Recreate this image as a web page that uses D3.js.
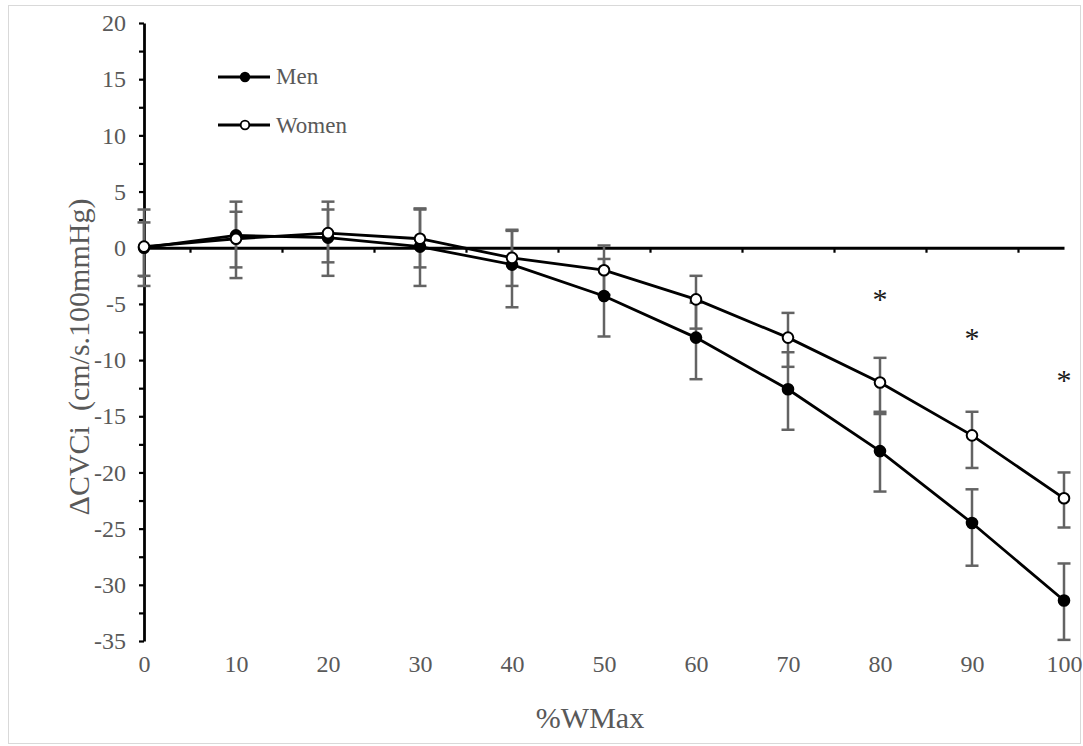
<!DOCTYPE html>
<html>
<head>
<meta charset="utf-8">
<script src="https://cdn.jsdelivr.net/npm/d3@7"></script>
<style>
  body { margin: 0; background: #fff; }
  svg { display: block; }
  text { font-family: "Liberation Serif", "Times New Roman", serif; }
</style>
</head>
<body>
<svg id="chart" width="1083" height="746"></svg>
<script>
// %WMax categories
var loads = [0, 10, 20, 30, 40, 50, 60, 70, 80, 90, 100];

// mean change in CVCi
var menMean   = [0.0, 1.1, 0.9, 0.1, -1.5, -4.3, -8.0, -12.6, -18.1, -24.5, -31.4];
var womenMean = [0.1, 0.8, 1.3, 0.8, -0.9, -2.0, -4.6, -8.0, -12.0, -16.7, -22.3];

// error bar ends (read off the picture, not symmetric everywhere)
var menHi   = [3.4, 4.1, 3.4, 3.5, 1.5, -1.0, -4.9, -9.3, -14.8, -21.5, -28.1];
var menLo   = [-3.4, -2.7, -2.5, -3.4, -5.3, -7.9, -11.7, -16.2, -21.7, -28.3, -34.9];
var womenHi = [2.25, 3.2, 4.1, 3.4, 1.6, 0.2, -2.5, -5.8, -9.8, -14.6, -20.0];
var womenLo = [-2.5, -1.75, -1.3, -1.75, -3.4, -4.2, -7.2, -10.6, -14.6, -19.6, -24.9];

// significance markers
var starLoads = [80, 90, 100];
var starY = [-4.2, -7.7, -11.4];

var yTicks = d3.range(-35, 20.01, 2.5);

var svg = d3.select('#chart');
var textColor = '#595959';
var serif = '"Liberation Serif", "Times New Roman", serif';

var x = d3.scaleLinear().domain([0, 100]).range([144, 1064]);
var y = d3.scaleLinear().domain([-35, 20]).range([641, 23]);

// chart border
svg.append('rect')
  .attr('x', 8.5).attr('y', 5.5)
  .attr('width', 1072).attr('height', 738)
  .attr('fill', 'none')
  .attr('stroke', '#d9d9d9')
  .attr('stroke-width', 1);

// y axis
var yAxis = svg.append('g')
  .attr('transform', 'translate(' + x(0) + ',0)')
  .call(d3.axisLeft(y)
    .tickValues(yTicks)
    .tickSizeInner(5)
    .tickSizeOuter(0)
    .tickPadding(13)
    .tickFormat(d => (d % 5 === 0) ? String(d) : ''));
yAxis.attr('font-family', serif);
yAxis.select('.domain').attr('stroke', '#000').attr('stroke-width', 2.8);
yAxis.selectAll('.tick line').attr('stroke', '#000').attr('stroke-width', 2.2);
yAxis.selectAll('.tick text')
  .attr('fill', textColor)
  .style('font-family', serif)
  .style('font-size', '24px');

// x axis line at zero, ticks between categories
var xAxis = svg.append('g')
  .attr('transform', 'translate(0,' + y(0) + ')')
  .call(d3.axisBottom(x)
    .tickValues(d3.range(5, 100, 10))
    .tickSizeInner(5)
    .tickSizeOuter(0)
    .tickFormat(''));
xAxis.select('.domain').attr('stroke', '#000').attr('stroke-width', 2.8);
xAxis.selectAll('.tick line').attr('stroke', '#000').attr('stroke-width', 2.2);

// x labels sit below the plot
var xLabels = svg.append('g')
  .attr('transform', 'translate(0,' + y(-35) + ')')
  .call(d3.axisBottom(x)
    .tickValues(loads)
    .tickSize(0)
    .tickPadding(14)
    .tickFormat(d => String(d)));
xLabels.attr('font-family', serif);
xLabels.select('.domain').remove();
xLabels.selectAll('.tick text')
  .attr('fill', textColor)
  .style('font-family', serif)
  .style('font-size', '24px');

// axis titles
svg.append('text')
  .attr('x', 590)
  .attr('y', 728)
  .attr('text-anchor', 'middle')
  .attr('fill', textColor)
  .style('font-size', '30px')
  .text('%WMax');

svg.append('text')
  .attr('transform', 'translate(89,357) rotate(-90)')
  .attr('text-anchor', 'middle')
  .attr('fill', textColor)
  .style('font-size', '30px')
  .style('white-space', 'pre')
  .text('\u0394CVCi  (cm/s.100mmHg)');

// error bars
function drawErrors(hi, lo) {
  var g = svg.append('g').attr('stroke', '#636363').attr('stroke-width', 2.5);
  loads.forEach(function(l, i) {
    g.append('line')
      .attr('x1', x(l)).attr('x2', x(l))
      .attr('y1', y(hi[i])).attr('y2', y(lo[i]));
    [hi[i], lo[i]].forEach(function(v) {
      g.append('line')
        .attr('x1', x(l) - 6.5).attr('x2', x(l) + 6.5)
        .attr('y1', y(v)).attr('y2', y(v));
    });
  });
}
drawErrors(menHi, menLo);
drawErrors(womenHi, womenLo);

var line = d3.line()
  .x((d, i) => x(loads[i]))
  .y(d => y(d));

function drawSeries(values, fill) {
  svg.append('path')
    .datum(values)
    .attr('d', line)
    .attr('fill', 'none')
    .attr('stroke', '#000')
    .attr('stroke-width', 2.8);
  svg.append('g').selectAll('circle')
    .data(values)
    .enter().append('circle')
    .attr('cx', (d, i) => x(loads[i]))
    .attr('cy', d => y(d))
    .attr('r', 5.3)
    .attr('fill', fill)
    .attr('stroke', '#000')
    .attr('stroke-width', 2);
}
drawSeries(menMean, '#000');
drawSeries(womenMean, '#fff');

// asterisks
svg.append('g').selectAll('text')
  .data(starLoads)
  .enter().append('text')
  .attr('x', d => x(d))
  .attr('y', (d, i) => y(starY[i]) + 14)
  .attr('text-anchor', 'middle')
  .attr('fill', '#1a1a1a')
  .style('font-size', '30px')
  .text('*');

// legend
var legendItems = [
  { name: 'Men', fill: '#000', y: 77, base: 84 },
  { name: 'Women', fill: '#fff', y: 125, base: 132.5 }
];
var lg = svg.append('g');
legendItems.forEach(function(it) {
  lg.append('line')
    .attr('x1', 218).attr('x2', 270)
    .attr('y1', it.y).attr('y2', it.y)
    .attr('stroke', '#000').attr('stroke-width', 2.8);
  lg.append('circle')
    .attr('cx', 245).attr('cy', it.y).attr('r', 4.3)
    .attr('fill', it.fill).attr('stroke', '#000').attr('stroke-width', 1.8);
  lg.append('text')
    .attr('x', 276).attr('y', it.base)
    .attr('fill', textColor)
    .style('font-size', '23px')
    .text(it.name);
});
</script>
</body>
</html>
